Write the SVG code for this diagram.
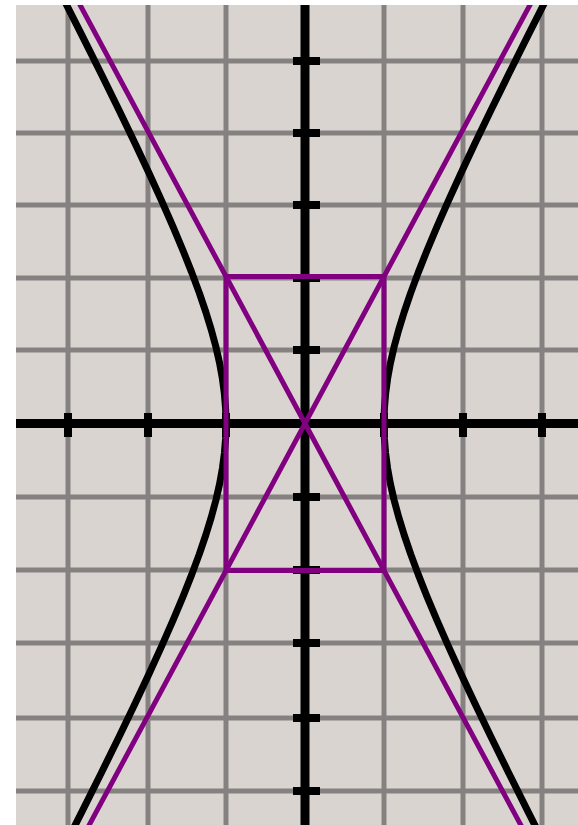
<svg xmlns="http://www.w3.org/2000/svg" width="578" height="825" viewBox="0 0 578 825">
<style>
.grid{stroke:#858181;stroke-width:5;fill:none}
.axis{stroke:#000;stroke-width:9;fill:none}
.tick{fill:#000}
.hyp{stroke:#000;stroke-width:7;fill:none;stroke-linejoin:round}
.purp{stroke:#800080;stroke-width:5;fill:none}
</style>
<defs>
<path id="branch" d="M245.5,432.5 L223.4,388.9 L203.6,349.2 L185.8,313 L169.9,279.9 L155.7,249.7 L143,221.9 L131.8,196.3 L121.9,172.8 L113.2,150.9 L105.7,130.6 L99.2,111.5 L93.7,93.6 L89.1,76.6 L85.4,60.4 L82.6,44.8 L80.6,29.6 L79.4,14.7 L79,0 L79.4,-14.7 L80.6,-29.6 L82.6,-44.8 L85.4,-60.4 L89.1,-76.6 L93.7,-93.6 L99.2,-111.5 L105.7,-130.6 L113.2,-150.9 L121.9,-172.8 L131.8,-196.3 L143,-221.9 L155.7,-249.7 L169.9,-279.9 L185.8,-313 L203.6,-349.2 L223.4,-388.9 L245.5,-432.5"/>
<clipPath id="plot"><rect x="16" y="5" width="562" height="820"/></clipPath>
</defs>
<rect x="0" y="0" width="578" height="825" fill="#fff"/>
<g id="plot-area" clip-path="url(#plot)">
<rect x="16" y="5" width="562" height="820" fill="#d9d4d0"/>
<g id="grid" class="grid">
<path d="M68,5V825M148,5V825M226,5V825M384,5V825M463,5V825M542,5V825"/>
<path d="M16,61H578M16,133H578M16,205H578M16,278H578M16,350H578M16,497H578M16,570H578M16,643H578M16,718H578M16,791H578"/>
</g>
<g id="axes">
<path class="axis" d="M16,423.5H578M305,5V825"/>
<g class="tick">
<rect x="64" y="413" width="8" height="24"/>
<rect x="144" y="413" width="8" height="24"/>
<rect x="222" y="413" width="8" height="24"/>
<rect x="380" y="413" width="8" height="24"/>
<rect x="459" y="413" width="8" height="24"/>
<rect x="538" y="413" width="8" height="24"/>
<rect x="293" y="57" width="27" height="8"/>
<rect x="293" y="129" width="27" height="8"/>
<rect x="293" y="201" width="27" height="8"/>
<rect x="293" y="274" width="27" height="8"/>
<rect x="293" y="346" width="27" height="8"/>
<rect x="293" y="493" width="27" height="8"/>
<rect x="293" y="566" width="27" height="8"/>
<rect x="293" y="639" width="27" height="8"/>
<rect x="293" y="714" width="27" height="8"/>
<rect x="293" y="787" width="27" height="8"/>
</g>
</g>
<g id="hyperbola" class="hyp">
<use href="#branch" transform="translate(305,423.5)"/>
<use href="#branch" transform="translate(305,423.5) scale(-1,1)"/>
</g>
<g id="connectors" class="purp">
<rect id="box" x="226" y="276.5" width="158" height="294"/>
<path id="asymptotes" d="M74.7,-5 L535.3,852 M535.3,-5 L74.7,852"/>
</g>
</g>
</svg>
